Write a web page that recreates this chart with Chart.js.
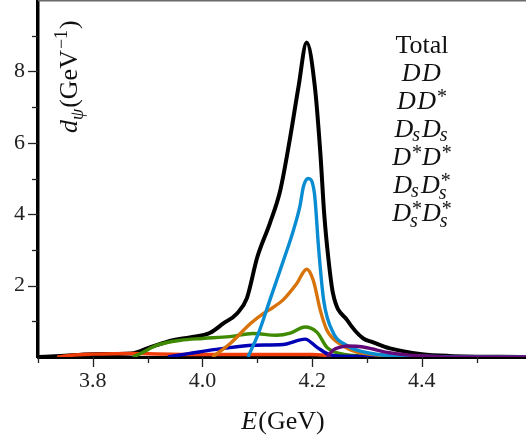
<!DOCTYPE html>
<html>
<head>
<meta charset="utf-8">
<script src="https://cdn.jsdelivr.net/npm/chart.js@4"></script>
<style>
  html, body { margin: 0; padding: 0; background: #fff; }
  canvas { display: block; }
</style>
</head>
<body>
<canvas id="lineshape" width="526" height="436"></canvas>
<script>
// ==========================
// DATOS (E en GeV, d_psi en GeV^-1)
// ==========================
const totalE = [3.70, 3.74, 3.80, 3.87, 3.904, 3.946, 3.977, 4.014, 4.038, 4.063, 4.081, 4.10, 4.123, 4.142, 4.16, 4.175, 4.19, 4.205, 4.215, 4.222, 4.23, 4.238, 4.264, 4.293, 4.31, 4.342, 4.40, 4.45, 4.59];
const totalV = [0.0, 0.03, 0.08, 0.10, 0.27, 0.47, 0.55, 0.68, 0.94, 1.22, 1.65, 2.8, 3.75, 4.68, 6.16, 7.56, 8.81, 7.56, 5.7, 4.0, 2.7, 1.78, 1.03, 0.52, 0.42, 0.24, 0.08, 0.03, 0.0];

const ddE = [3.735, 3.76, 3.80, 3.87, 3.90, 4.00, 4.10, 4.20, 4.24, 4.30, 4.59];
const ddV = [0.0, 0.05, 0.08, 0.10, 0.09, 0.07, 0.07, 0.07, 0.03, 0.01, 0.0];

const ddStarE = [3.873, 3.89, 3.917, 3.96, 4.00, 4.05, 4.092, 4.135, 4.16, 4.187, 4.209, 4.227, 4.25, 4.30, 4.59];
const ddStarV = [0.0, 0.12, 0.33, 0.47, 0.52, 0.57, 0.66, 0.61, 0.67, 0.84, 0.69, 0.27, 0.10, 0.03, 0.0];

const dsdsE = [3.937, 3.977, 4.038, 4.092, 4.147, 4.187, 4.209, 4.233, 4.27, 4.59];
const dsdsV = [0.0, 0.10, 0.24, 0.33, 0.35, 0.50, 0.27, 0.06, 0.02, 0.0];

const dstarDstarE = [4.018, 4.05, 4.087, 4.11, 4.128, 4.147, 4.172, 4.19, 4.202, 4.215, 4.227, 4.25, 4.27, 4.293, 4.35, 4.59];
const dstarDstarV = [0.0, 0.37, 0.93, 1.21, 1.38, 1.60, 2.06, 2.46, 2.15, 1.30, 0.75, 0.37, 0.20, 0.10, 0.03, 0.0];

const dsDsStarE = [4.083, 4.102, 4.123, 4.148, 4.166, 4.178, 4.184, 4.193, 4.204, 4.212, 4.221, 4.239, 4.26, 4.282, 4.32, 4.38, 4.59];
const dsDsStarV = [0.0, 0.66, 1.60, 2.72, 3.56, 4.25, 4.77, 5.00, 4.60, 3.00, 1.59, 0.66, 0.35, 0.19, 0.07, 0.02, 0.0];

const dsStarDsStarE = [4.227, 4.238, 4.25, 4.264, 4.28, 4.30, 4.337, 4.373, 4.41, 4.45, 4.59];
const dsStarDsStarV = [0.0, 0.19, 0.27, 0.31, 0.30, 0.26, 0.13, 0.06, 0.02, 0.0, 0.0];

// etiquetas: _ subíndice, ^ superíndice
const seriesNames = ["Total", "DD", "DD^*", "D_sD_s", "D^*D^*", "D_sD_s^*", "D_s^*D_s^*"];
const seriesColors = ["#000000", "#ef3c0a", "#3f8a00", "#0000b4", "#d8720a", "#0a8cd2", "#640a78"];

const xTicks = [3.7, 3.8, 3.9, 4.0, 4.1, 4.2, 4.3, 4.4, 4.5];
const xLabeled = [3.8, 4.0, 4.2, 4.4];
const yTicks = [1, 2, 3, 4, 5, 6, 7, 8, 9];
const yLabeled = [2, 4, 6, 8];

const seriesE = [totalE, ddE, ddStarE, dsdsE, dstarDstarE, dsDsStarE, dsStarDsStarE];
const seriesV = [totalV, ddV, ddStarV, dsdsV, dstarDstarV, dsDsStarV, dsStarDsStarV];

const SERIF = '"Liberation Serif", "DejaVu Serif", serif';

// ==========================
// TEXTO MATEMÁTICO
// ==========================
function parseMath(str){
    const groups = [];
    let i = 0;
    while(i < str.length){
        const g = {base: str[i], sub: "", sup: ""};
        i++;
        while(str[i] === "_" || str[i] === "^"){
            if(str[i] === "_") g.sub = str[i+1]; else g.sup = str[i+1];
            i += 2;
        }
        groups.push(g);
    }
    return groups;
}

function drawMath(ctx, str, x, y, size, align){
    const big = "italic " + size + "px " + SERIF;
    const small = Math.round(size * 0.75) + "px " + SERIF;
    const smallIt = "italic " + Math.round(size * 0.75) + "px " + SERIF;
    const groups = parseMath(str);
    const widths = groups.map(g => {
        ctx.font = big;
        let w = ctx.measureText(g.base).width;
        ctx.font = smallIt;
        const ws = g.sub ? ctx.measureText(g.sub).width : 0;
        ctx.font = small;
        const wp = g.sup ? ctx.measureText(g.sup).width : 0;
        return w + Math.max(ws, wp) + (g.sub || g.sup ? 1 : 1.5);
    });
    const total = widths.reduce((a, b) => a + b, 0);
    let cx = align === "center" ? x - total / 2 : x;
    ctx.textAlign = "left";
    ctx.textBaseline = "alphabetic";
    groups.forEach((g, k) => {
        ctx.font = big;
        ctx.fillText(g.base, cx, y);
        const bw = ctx.measureText(g.base).width;
        if(g.sub){
            ctx.font = smallIt;
            ctx.fillText(g.sub, cx + bw - 1, y + (g.sup ? size * 0.24 : size * 0.16));
        }
        if(g.sup){
            ctx.font = small;
            ctx.fillText(g.sup, cx + bw + 1, y - size * 0.22);
        }
        cx += widths[k];
    });
    return total;
}

// ==========================
// DECORACIÓN: marcas, títulos y leyenda
// ==========================
const decorations = {
    id: "decorations",
    afterDraw(chart){
        const ctx = chart.ctx;
        const area = chart.chartArea;
        const xs = chart.scales.x;
        const ys = chart.scales.y;
        ctx.save();

        // borde superior
        ctx.strokeStyle = "#6a6a6a";
        ctx.lineWidth = 1.5;
        ctx.beginPath();
        ctx.moveTo(area.left, area.top + 0.75);
        ctx.lineTo(area.right, area.top + 0.75);
        ctx.stroke();

        // marcas de los ejes
        ctx.strokeStyle = "#222";
        ctx.lineWidth = 1.3;
        xTicks.forEach(v => {
            const px = Math.round(xs.getPixelForValue(v)) + 0.5;
            const len = xLabeled.includes(v) ? 10 : 6;
            ctx.beginPath();
            ctx.moveTo(px, area.bottom);
            ctx.lineTo(px, area.bottom + len);
            ctx.stroke();
        });
        yTicks.forEach(v => {
            const py = Math.round(ys.getPixelForValue(v)) + 0.5;
            const len = yLabeled.includes(v) ? 10 : 6;
            ctx.beginPath();
            ctx.moveTo(area.left, py);
            ctx.lineTo(area.left - len, py);
            ctx.stroke();
        });

        ctx.fillStyle = "#111";

        // título eje x: E(GeV)
        ctx.font = "italic 26px " + SERIF;
        const wE = ctx.measureText("E").width;
        ctx.font = "26px " + SERIF;
        const wG = ctx.measureText("(GeV)").width;
        const cxT = (area.left + area.right) / 2 + 1;
        let sx = cxT - (wE + wG + 1) / 2;
        ctx.textAlign = "left";
        ctx.textBaseline = "alphabetic";
        ctx.font = "italic 26px " + SERIF;
        ctx.fillText("E", sx, 429);
        ctx.font = "26px " + SERIF;
        ctx.fillText("(GeV)", sx + wE + 1, 429);

        // título eje y: d_psi(GeV^-1), girado
        ctx.save();
        ctx.translate(77, 133);
        ctx.rotate(-Math.PI / 2);
        let u = 0;
        ctx.font = "italic 26px " + SERIF;
        ctx.fillText("d", u, 0);
        u += ctx.measureText("d").width;
        ctx.font = "italic 18px " + SERIF;
        ctx.fillText("ψ", u, 6);
        u += ctx.measureText("ψ").width + 1;
        ctx.font = "26px " + SERIF;
        ctx.fillText("(GeV", u, 0);
        u += ctx.measureText("(GeV").width;
        ctx.font = "18px " + SERIF;
        ctx.fillText("−1", u + 1, -10);
        u += ctx.measureText("−1").width + 2;
        ctx.font = "26px " + SERIF;
        ctx.fillText(")", u, 0);
        ctx.restore();

        // leyenda solo texto
        const legendX = 422;
        const legendY0 = 52.5;
        const legendStep = 28.1;
        seriesNames.forEach((name, k) => {
            const y = legendY0 + k * legendStep;
            if(k === 0){
                ctx.font = "26px " + SERIF;
                ctx.textAlign = "center";
                ctx.fillText(name, legendX, y);
            } else {
                drawMath(ctx, name, legendX, y, 26, "center");
            }
        });

        ctx.restore();
    }
};

// ==========================
// GRÁFICA
// ==========================
const datasets = seriesNames.map((name, k) => ({
    label: name,
    data: seriesE[k].map((e, j) => ({x: e, y: seriesV[k][j]})),
    borderColor: seriesColors[k],
    borderWidth: k === 0 ? 4 : 3.4,
    pointRadius: 0,
    fill: false,
    cubicInterpolationMode: "monotone",
    order: k === 0 ? 10 : (k === 1 ? 9 : 7 - k)
}));

function noPadding(s){
    s.paddingTop = 0;
    s.paddingBottom = 0;
    s.paddingLeft = 0;
    s.paddingRight = 0;
}

new Chart(document.getElementById("lineshape"), {
    type: "line",
    data: { datasets },
    plugins: [decorations],
    options: {
        responsive: false,
        animation: false,
        devicePixelRatio: 1,
        layout: { padding: 0 },
        plugins: {
            legend: { display: false },
            tooltip: { enabled: false }
        },
        scales: {
            x: {
                type: "linear",
                min: 3.7,
                max: 4.59,
                afterFit: s => { s.height = 79; noPadding(s); },
                afterBuildTicks: s => { s.ticks = xTicks.map(v => ({value: v})); },
                grid: { display: false, drawTicks: false },
                border: { display: true, width: 3, color: "#000" },
                ticks: {
                    autoSkip: false,
                    maxRotation: 0,
                    padding: 11,
                    color: "#222",
                    font: { family: SERIF, size: 22 },
                    callback: v => xLabeled.includes(Math.round(v * 10) / 10) ? v.toFixed(1) : ""
                }
            },
            y: {
                type: "linear",
                min: 0,
                max: 10,
                afterFit: s => { s.width = 38; noPadding(s); },
                afterBuildTicks: s => { s.ticks = yTicks.map(v => ({value: v})); },
                grid: { display: false, drawTicks: false },
                border: { display: true, width: 3.5, color: "#000" },
                ticks: {
                    autoSkip: false,
                    padding: 13,
                    color: "#222",
                    font: { family: SERIF, size: 22 },
                    callback: v => yLabeled.includes(v) ? String(v) : ""
                }
            }
        }
    }
});
</script>
</body>
</html>
